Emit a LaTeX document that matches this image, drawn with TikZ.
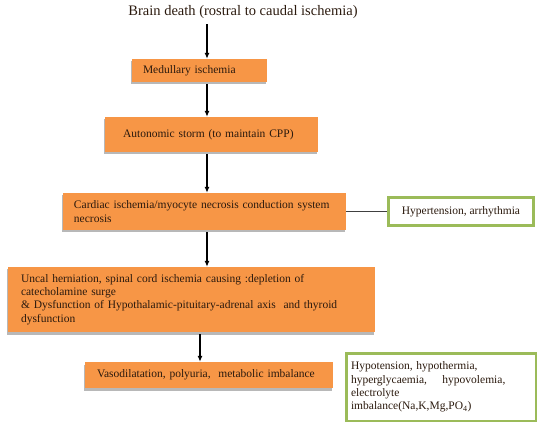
\documentclass[tikz,border=0pt]{standalone}
\usepackage{fontspec}
\setmainfont{Liberation Serif}
\usepackage{xcolor}
\usepackage{tikz}
\usetikzlibrary{arrows.meta,shadows}
\definecolor{boxorange}{HTML}{F79646}
\definecolor{boxgreen}{HTML}{9BBB59}
\definecolor{txtbrown}{HTML}{2B1A0E}

\begin{document}
\begin{tikzpicture}[x=1pt,y=-1pt,
      stage/.style={fill=boxorange, text=txtbrown, font=\fontsize{11.5}{13.2}\selectfont, align=left, inner ysep=3pt,
        drop shadow={shadow xshift=-1pt, shadow yshift=-2.5pt, fill=black!35, opacity=0.8}},
      effect/.style={draw=boxgreen, line width=2.5pt, fill=white, text=txtbrown, font=\fontsize{11.5}{13.4}\selectfont, align=left},
      flow/.style={-{Latex[length=6pt,width=5pt]}, line width=1.2pt, shorten <=2pt}]
      \useasboundingbox (0,0) rectangle (539,425);
      \coordinate (spine) at (207,0);
      \coordinate (spinelow) at (200,0);
      \node[font=\fontsize{14.5}{16}\selectfont, text=txtbrown] (death) at (243,12) {Brain death (rostral to caudal ischemia)};
      \node[stage, text width=113pt, inner xsep=11pt, minimum height=23pt] (medulla) at (199.5,70.5) {Medullary ischemia};
      \node[stage, text width=177pt, inner xsep=18pt, minimum height=35pt] (storm) at (211.5,134.5) {Autonomic storm (to maintain CPP)};
      \node[stage, text width=261pt, inner xsep=11pt, minimum height=37pt] (cardiac) at (204.5,211.5) {Cardiac ischemia/myocyte necrosis conduction system\\necrosis};
      \node[effect, minimum width=145pt, minimum height=28pt] (hyper) at (461,211.5) {Hypertension, arrhythmia};
      \node[stage, text width=341pt, inner xsep=13pt, minimum height=65pt] (uncal) at (191.5,299.5) {Uncal herniation, spinal cord ischemia causing :depletion of\\catecholamine surge\\\& Dysfunction of Hypothalamic-pituitary-adrenal axis\ \ and thyroid\\dysfunction};
      \node[stage, text width=224pt, inner xsep=12pt, minimum height=26pt] (vaso) at (209,375) {Vasodilatation, polyuria,\ \ metabolic imbalance};
      \node[effect, text width=180pt, inner xsep=4.75pt, minimum height=67.5pt] (hypo) at (441,387) {Hypotension, hypothermia,\\hyperglycaemia,\ \ \ \ hypovolemia,\\electrolyte\\imbalance(Na,K,Mg,PO\textsubscript{4})};
      \draw[flow] (death.south -| spine) -- (medulla.north -| spine);
      \draw[flow] (medulla.south -| spine) -- (storm.north -| spine);
      \draw[flow] (storm.south -| spine) -- (cardiac.north -| spine);
      \draw[flow] (cardiac.south -| spine) -- (uncal.north -| spine);
      \draw[flow] (uncal.south -| spinelow) -- (vaso.north -| spinelow);
      \draw[line width=0.9pt, black!75] (cardiac.east) -- (hyper.west);
    \end{tikzpicture}
\end{document}
